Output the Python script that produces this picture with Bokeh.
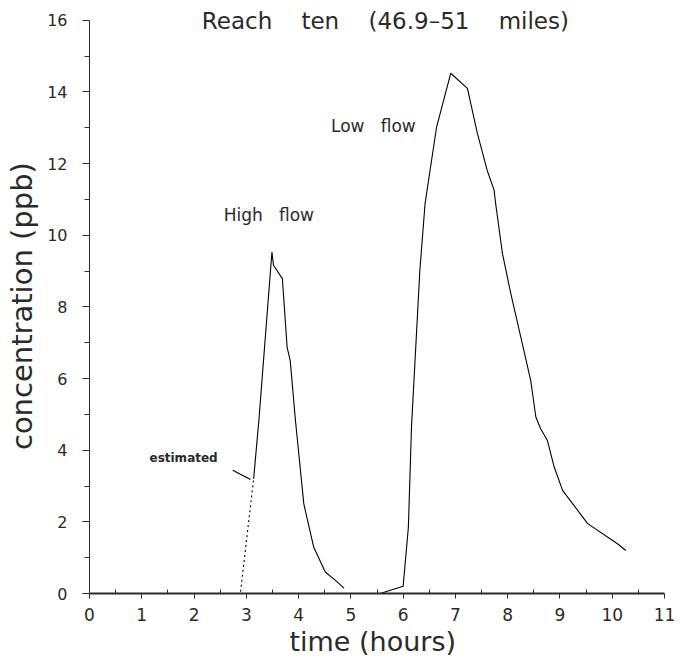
from bokeh.plotting import figure
from bokeh.models import Range1d, Label, FixedTicker
from bokeh.embed import file_html
from bokeh.resources import INLINE

# High flow: estimated (dashed) rising limb, then measured curve
high_est_x = [2.89, 3.14]
high_est_y = [0.05, 3.2]
high_x = [3.14, 3.24, 3.49, 3.52, 3.69, 3.78, 3.84, 3.94, 4.10, 4.29, 4.51, 4.71, 4.87]
high_y = [3.2, 4.83, 9.53, 9.16, 8.79, 6.88, 6.5, 4.83, 2.5, 1.29, 0.6, 0.36, 0.15]

# Low flow
low_x = [5.56, 6.0, 6.1, 6.16, 6.32, 6.42, 6.64, 6.91, 7.23, 7.42, 7.61, 7.74, 7.77, 7.9,
         8.06, 8.25, 8.44, 8.54, 8.63, 8.76, 8.89, 9.05, 9.53, 10.1, 10.26]
low_y = [0.0, 0.2, 1.85, 4.65, 9.02, 10.89, 13.02, 14.52, 14.1, 12.84, 11.8, 11.26, 10.88, 9.49,
         8.37, 7.16, 5.95, 4.92, 4.6, 4.27, 3.53, 2.88, 1.95, 1.39, 1.2]

x_ticks = list(range(0, 12))
y_ticks = [0, 2, 4, 6, 8, 10, 12, 14, 16]

FONT = "DejaVu Sans"
INK = "#2a2a2a"
GAP = "\u00a0\u00a0\u00a0 "   # wide word spacing as in the plotter lettering
GAP2 = "\u00a0\u00a0 "

p = figure(width=682, height=664, output_backend="svg", toolbar_location=None,
           x_range=Range1d(0, 11), y_range=Range1d(0, 16.3),
           min_border_left=89, min_border_right=18, min_border_top=9, min_border_bottom=71)
p.outline_line_color = None
p.xgrid.visible = False
p.ygrid.visible = False
p.background_fill_color = "white"

p.xaxis.ticker = FixedTicker(ticks=x_ticks, minor_ticks=[i + 0.5 for i in range(11)])
p.yaxis.ticker = FixedTicker(ticks=y_ticks, minor_ticks=list(range(1, 16, 2)))
p.yaxis.bounds = (0, 16)
for ax in (p.xaxis, p.yaxis):
    ax.axis_line_color = INK
    ax.major_tick_line_color = INK
    ax.minor_tick_line_color = INK
    ax.major_label_text_font = FONT
    ax.major_label_text_color = INK
    ax.axis_label_text_font = FONT
    ax.axis_label_text_font_style = "normal"
    ax.axis_label_text_color = INK
p.xaxis.major_label_text_font_size = "17px"
p.yaxis.major_label_text_font_size = "16px"
p.xaxis.axis_label_text_font_size = "27px"
p.yaxis.axis_label_text_font_size = "29px"
p.xaxis.axis_line_width = 2
p.yaxis.axis_line_width = 1
p.xaxis.major_tick_in = 0
p.xaxis.major_tick_out = 5
p.xaxis.minor_tick_in = 4
p.xaxis.minor_tick_out = 0
p.yaxis.major_tick_in = 0
p.yaxis.major_tick_out = 7
p.yaxis.minor_tick_in = 0
p.yaxis.minor_tick_out = 5
p.xaxis.major_label_standoff = 9
p.yaxis.major_label_standoff = 15
p.xaxis.axis_label = "time  (hours)"
p.yaxis.axis_label = "concentration  (ppb)"
p.xaxis.axis_label_standoff = 2
p.yaxis.axis_label_standoff = 5

p.line(high_est_x, high_est_y, line_color="black", line_width=1.1, line_dash="2 3")
p.line(high_x, high_y, line_color="black", line_width=1.1)
p.line(low_x, low_y, line_color="black", line_width=1.1)

p.add_layout(Label(x=5.66, y=15.97, text="Reach" + GAP + "ten" + GAP + "(46.9–51" + GAP + "miles)",
                   text_font=FONT, text_font_size="23px", text_color=INK,
                   text_baseline="middle", text_align="center"))
p.add_layout(Label(x=3.43, y=10.56, text="High" + GAP2 + "flow", text_font=FONT,
                   text_font_size="17px", text_color=INK, text_baseline="middle",
                   text_align="center"))
p.add_layout(Label(x=5.43, y=13.04, text="Low" + GAP2 + "flow", text_font=FONT,
                   text_font_size="17px", text_color=INK, text_baseline="middle",
                   text_align="center"))
p.add_layout(Label(x=1.80, y=3.77, text="estimated", text_font=FONT,
                   text_font_size="12px", text_font_style="bold", text_color=INK,
                   text_baseline="middle", text_align="center"))
p.segment(x0=[2.74], y0=[3.44], x1=[3.08], y1=[3.18], line_color="black", line_width=1.2)

open("out.html", "w").write(file_html(p, INLINE))
